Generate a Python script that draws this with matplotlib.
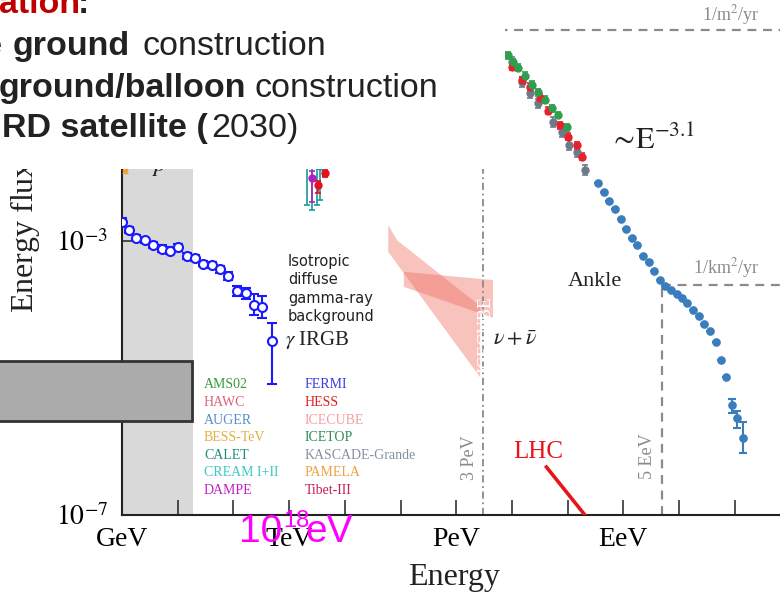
import numpy as np
import matplotlib
matplotlib.use("Agg")
import matplotlib.pyplot as plt
from matplotlib.patches import Rectangle, Polygon
from matplotlib.ticker import FixedLocator, FixedFormatter, NullLocator

plt.rcParams.update({
    "font.family": ["Liberation Serif", "DejaVu Serif"],
    "mathtext.fontset": "stix",
})

W, H = 780, 597

# ──────────────────────────────────────────────
# Data: log10(E / GeV) and log10(energy flux)
# ──────────────────────────────────────────────

# Fermi isotropic gamma-ray background
fermi_logE = [0.00, 0.12, 0.26, 0.41, 0.56, 0.71, 0.86, 1.01, 1.16, 1.31,
              1.46, 1.61, 1.76, 1.91, 2.07, 2.22, 2.37, 2.52, 2.69]
fermi_logF = [-2.72, -2.84, -2.95, -2.99, -3.06, -3.11, -3.14, -3.09, -3.22, -3.25,
              -3.33, -3.35, -3.41, -3.51, -3.73, -3.76, -3.93, -3.96, -4.46]
fermi_up = [0.05, 0.05, 0.04, 0.04, 0.04, 0.05, 0.05, 0.05, 0.04, 0.04,
            0.04, 0.04, 0.05, 0.06, 0.08, 0.08, 0.15, 0.16, 0.26]
fermi_dn = [0.05, 0.05, 0.04, 0.04, 0.04, 0.05, 0.05, 0.05, 0.04, 0.04,
            0.04, 0.04, 0.05, 0.06, 0.08, 0.08, 0.15, 0.16, 0.63]

# all-particle spectrum below the ankle (three air-shower experiments)
green_logE = [6.93, 7.02, 7.11, 7.24, 7.36, 7.47, 7.59, 7.72, 7.83, 7.99]
green_logF = [-0.29, -0.39, -0.47, -0.59, -0.72, -0.83, -0.94, -1.06, -1.16, -1.34]
red_logE = [7.00, 7.18, 7.33, 7.50, 7.65, 7.86, 8.01, 8.17, 8.26]
red_logF = [-0.46, -0.65, -0.75, -0.91, -1.10, -1.31, -1.48, -1.60, -1.77]
grey_logE = [7.00, 7.18, 7.33, 7.47, 7.74, 7.90, 8.03, 8.17, 8.31]
grey_logF = [-0.39, -0.68, -0.84, -0.99, -1.26, -1.41, -1.60, -1.70, -1.96]

# ultra-high-energy spectrum
uhe_logE = [8.55, 8.65, 8.75, 8.85, 8.95, 9.05, 9.16, 9.25, 9.35, 9.46,
            9.55, 9.66, 9.75, 9.86, 9.96, 10.05, 10.15, 10.26, 10.36, 10.45,
            10.56, 10.66, 10.75, 10.85, 10.95, 11.05, 11.15]
uhe_logF = [-2.15, -2.28, -2.41, -2.54, -2.68, -2.83, -2.95, -3.06, -3.22, -3.31,
            -3.44, -3.57, -3.66, -3.72, -3.77, -3.83, -3.91, -4.01, -4.09, -4.21,
            -4.31, -4.48, -4.74, -4.98, -5.40, -5.59, -5.87]
uhe_up = [0] * 24 + [0.10, 0.11, 0.23]
uhe_dn = [0] * 24 + [0.11, 0.14, 0.23]

# TeV electrons / protons peeking in at the top
teal_logE = [3.33, 3.42, 3.50, 3.56]
teal_logF = [-1.88, -1.88, -1.89, -1.90]
teal_dn = [0.60, 0.67, 0.59, 0.50]
purple_logE = [3.42]
purple_logF = [-2.08]
crimson_logE = [3.52, 3.64]
crimson_logF = [-2.18, -2.01]
orange_logE = [0.05]
orange_logF = [-1.96]

# IceCube astrophysical neutrino bands
nu_a_logE = [4.78, 4.94, 6.43, 6.43, 4.78]
nu_a_logF = [-2.77, -2.99, -3.95, -4.99, -3.16]
nu_b_logE = [5.06, 6.66, 6.66, 5.06]
nu_b_logF = [-3.45, -3.57, -4.12, -3.67]

# LHC equivalent energy
lhc_logE = [7.62, 8.31]
lhc_logF = [-6.30, -7.00]

knee_logE = np.log10(3e6)
ankle_logE = np.log10(5e9)
ankle_logF = -3.64
m2yr_logF = 0.08

legend_left = [("AMS02", "#3a9a3a"), ("HAWC", "#d8647c"), ("AUGER", "#5a8ec8"),
               ("BESS-TeV", "#e0b040"), ("CALET", "#1f8a7a"), ("CREAM I+II", "#3cc8c0"),
               ("DAMPE", "#c020c0")]
legend_right = [("FERMI", "#3a3ae0"), ("HESS", "#e02020"), ("ICECUBE", "#f4a0a0"),
                ("ICETOP", "#2e8b57"), ("KASCADE-Grande", "#8390a0"), ("PAMELA", "#f0a040"),
                ("Tibet-III", "#c02050")]


def p10(v):
    return 10.0 ** np.asarray(v, dtype=float)


def yerr(logF, up, dn):
    f = p10(logF)
    return [f - p10(np.asarray(logF) - np.asarray(dn)), p10(np.asarray(logF) + np.asarray(up)) - f]


def px(x):
    return x / W


def py(y):
    return 1 - y / H


fig = plt.figure(figsize=(W / 100, H / 100), dpi=100)
ax = fig.add_axes([122 / W, 82 / H, (W - 122) / W, 515 / H])
ax.set_xscale("log")
ax.set_yscale("log")
ax.set_xlim(1, 10 ** ((W - 122) / 55.7))
ax.set_ylim(1e-7, 10 ** (515 / 68.5 - 7))

for s in ["top", "right"]:
    ax.spines[s].set_visible(False)
for s in ["left", "bottom"]:
    ax.spines[s].set_linewidth(1.5)
    ax.spines[s].set_color("#222222")

xt = 10.0 ** np.arange(0, 12)
ax.xaxis.set_major_locator(FixedLocator(xt))
ax.xaxis.set_major_formatter(FixedFormatter(["GeV", "", "", "TeV", "", "", "PeV", "", "", "EeV", "", ""]))
ax.xaxis.set_minor_locator(NullLocator())
ax.yaxis.set_major_locator(FixedLocator([1e-7, 1e-3, 1e1]))
ax.yaxis.set_major_formatter(FixedFormatter([r"$10^{-7}$", r"$10^{-3}$", ""]))
ax.yaxis.set_minor_locator(NullLocator())
ax.tick_params(axis="x", direction="in", length=11, width=1.1, pad=9, labelsize=20, color="#222222")
ax.tick_params(axis="y", direction="in", length=7, width=1.1, pad=10, labelsize=20, color="#222222")

# solar modulation region
ax.axvspan(1, 10 ** 1.27, color="#d9d9d9", lw=0, zorder=0)

# neutrino bands
for be, bf in [(nu_a_logE, nu_a_logF), (nu_b_logE, nu_b_logF)]:
    ax.add_patch(Polygon(np.column_stack([p10(be), p10(bf)]), closed=True,
                         facecolor="#ee6a5a", alpha=0.4, lw=0, zorder=1))

# reference lines
ax.plot(p10([knee_logE, knee_logE]), p10([-7, m2yr_logF]), color="#8a8a8a", lw=1.3,
        ls=(0, (4, 2, 1, 2)), zorder=2)
ax.plot(p10([knee_logE, 12]), p10([m2yr_logF, m2yr_logF]), color="#8a8a8a", lw=1.6,
        ls=(0, (4, 3)), zorder=2)
ax.plot(p10([ankle_logE, ankle_logE]), p10([-7, ankle_logF]), color="#8a8a8a", lw=1.6,
        ls=(0, (4, 3)), zorder=2)
ax.plot(p10([ankle_logE, 12]), p10([ankle_logF, ankle_logF]), color="#8a8a8a", lw=1.6,
        ls=(0, (4, 3)), zorder=2)

ax.plot(p10(lhc_logE), p10(lhc_logF), color="#e8141c", lw=2.6, zorder=3)

# data
ax.errorbar(p10(fermi_logE), p10(fermi_logF), yerr=yerr(fermi_logF, fermi_up, fermi_dn),
            fmt="o", ms=6.5, mfc="white", mec="#1a1aff", mew=1.5, ecolor="#1a1aff",
            elinewidth=1.5, capsize=3.5, capthick=1.5, zorder=4)

kw = dict(fmt="o", ms=5, elinewidth=1.2, capsize=2.5, capthick=1.2, zorder=4)
ax.errorbar(p10(grey_logE), p10(grey_logF), yerr=yerr(grey_logF, [0.07] * 9, [0.07] * 9),
            color="#6d7a8a", **kw)
ax.errorbar(p10(red_logE), p10(red_logF), yerr=yerr(red_logF, [0.05] * 9, [0.05] * 9),
            color="#e8202a", **kw)
ax.errorbar(p10(green_logE), p10(green_logF), yerr=yerr(green_logF, [0.05] * 10, [0.05] * 10),
            color="#2e9e4f", **kw)

ax.errorbar(p10(teal_logE), p10(teal_logF), yerr=yerr(teal_logF, [0.1] * 4, teal_dn),
            color="#1a9a9a", **kw)
ax.errorbar(p10(purple_logE), p10(purple_logF), yerr=yerr(purple_logF, [0.1], [0.35]),
            color="#b020c0", **kw)
ax.errorbar(p10(crimson_logE), p10(crimson_logF), yerr=yerr(crimson_logF, [0.05, 0.05], [0.12, 0.05]),
            color="#e81020", **kw)
ax.errorbar(p10(orange_logE), p10(orange_logF), yerr=yerr(orange_logF, [0.05], [0.05]),
            color="#f0a030", fmt="o", ms=3, elinewidth=1.2, capsize=2.5, zorder=4)

ax.errorbar(p10(uhe_logE), p10(uhe_logF), yerr=yerr(uhe_logF, uhe_up, uhe_dn),
            fmt="o", ms=5.2, color="#3a7dbd", elinewidth=1.5, capsize=3, capthick=1.5, zorder=4)

# annotations inside the plot
fig.text(px(288), py(254), "Isotropic\ndiffuse\ngamma-ray\nbackground", family="DejaVu Sans",
         fontsize=10.5, va="top", ha="left", linespacing=1.28, color="#222222")
fig.text(px(285), py(340), r"$\gamma$ IRGB", fontsize=15, va="center", ha="left", color="#222222")
fig.text(px(493), py(340), r"$\nu + \bar{\nu}$", fontsize=16, va="center", ha="left", color="#222222")
fig.text(px(486), py(335), "ICECUBE", fontsize=13, rotation=90, va="center", ha="center", color="white")
fig.text(px(469), py(458), "3 PeV", fontsize=13, rotation=90, va="center", ha="center", color="#8a8a8a")
fig.text(px(648), py(456), "5 EeV", fontsize=13, rotation=90, va="center", ha="center", color="#8a8a8a")
fig.text(px(568), py(282), "Ankle", fontsize=16, va="center", ha="left", color="#222222")
fig.text(px(693), py(268), r"1/km$^2$/yr", fontsize=13, va="center", ha="left", color="#8a8a8a")
fig.text(px(702), py(15), r"1/m$^2$/yr", fontsize=13, va="center", ha="left", color="#8a8a8a")
fig.text(px(609), py(141), r"$\sim\!\mathrm{E}^{-3.1}$", fontsize=22, va="center", ha="left", color="#222222")
fig.text(px(513), py(458), "LHC", fontsize=18, va="baseline", ha="left", color="#e8141c")
fig.text(px(408), py(578), "Energy", fontsize=23, va="center", ha="left", color="#222222")

for i, (name, c) in enumerate(legend_left):
    fig.text(px(204), py(385 + 17.6 * i), name, fontsize=10, color=c, va="center", ha="left")
for i, (name, c) in enumerate(legend_right):
    fig.text(px(305), py(385 + 17.6 * i), name, fontsize=10, color=c, va="center", ha="left")

# labels partly hidden under the slide overlay
fig.text(px(24), py(313), r"Energy flux [GeV m$^{-2}$ s$^{-1}$ sr$^{-1}$]", fontsize=23,
         rotation=90, ha="center", va="bottom", color="#222222", zorder=0.5)
fig.text(px(152), py(171), r"$p$", fontsize=18, ha="left", va="baseline", color="#222222", zorder=0.5)

# slide overlays
fig.patches.append(Rectangle((px(-10), py(169)), px(515), 169 / H, transform=fig.transFigure,
                             facecolor="white", edgecolor="none", zorder=1))
fig.patches.append(Rectangle((px(-10), py(421)), px(202), 60 / H, transform=fig.transFigure,
                             facecolor="#ababab", edgecolor="#333333", lw=2, zorder=1))

sans = ["Liberation Sans", "DejaVu Sans"]
body = dict(fontsize=24.5, family=sans, va="baseline", ha="left", color="#222222")
fig.text(px(-1), py(13), "ation", weight="bold", **{**body, "color": "#c00000"})
fig.text(px(78), py(13), ":", weight="bold", **body)
fig.text(px(-17), py(55), "e", weight="bold", **body)
fig.text(px(13), py(55), "ground", weight="bold", **body)
fig.text(px(142), py(55), "construction", **body)
fig.text(px(-1), py(97), "ground/balloon", weight="bold", **body)
fig.text(px(254), py(97), "construction", **body)
fig.text(px(2), py(137), "RD satellite (", weight="bold", **body)
fig.text(px(211), py(137), "2030)", **body)

# energy marker
mag = dict(family=sans, color="#ff00ff", va="baseline", ha="left")
fig.text(px(239), py(542), "10", fontsize=28, **mag)
fig.text(px(283), py(527), "18", fontsize=17, **mag)
fig.text(px(305), py(542), "eV", fontsize=28, **mag)

fig.savefig("out.png", dpi=100)
